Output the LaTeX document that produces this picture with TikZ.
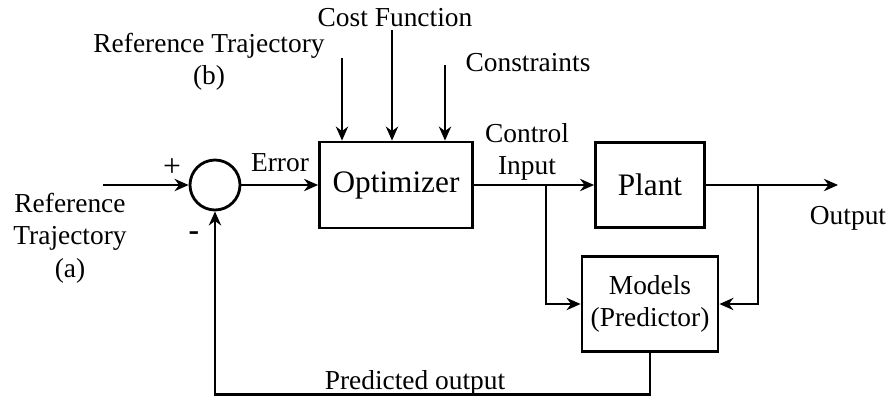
\documentclass[tikz,border=0pt]{standalone}
\usepackage{fontspec}
\setmainfont{Liberation Serif}
\usetikzlibrary{arrows.meta}

\tikzset{
  blk/.style={draw,line width=1.6pt,inner sep=0pt,align=center},
  arr/.style={line width=1.6pt,-{Stealth[length=8pt,width=7pt]}},
  lbl/.style={inner sep=0pt,align=center,font=\fontsize{15.6}{18.5}\selectfont}
}

\begin{document}
\begin{tikzpicture}[x=0.02cm,y=-0.02cm]
    \useasboundingbox (0,0) rectangle (890,403);
    % blocks
    \node[blk,circle,minimum size=1cm] (sum) at (215,185) {};
    \node[blk,minimum width=3.06cm,minimum height=1.72cm,font=\fontsize{17.8}{20}\selectfont] (opt) at (396,185) {Optimizer};
    \node[blk,minimum width=2.18cm,minimum height=1.7cm,font=\fontsize{17.8}{20}\selectfont] (plant) at (650,185) {Plant};
    \node[blk,minimum width=2.72cm,minimum height=1.9cm,font=\fontsize{15.6}{18.5}\selectfont] (model) at (650,304) {Models\\(Predictor)};
    % free ends
    \coordinate (refin) at (103,185);
    \coordinate (refb) at (342,58);
    \coordinate (cost) at (392,30);
    \coordinate (cons) at (445,65);
    \coordinate (ctrl) at (546,185);
    \coordinate (outb) at (758,185);
    \coordinate (out) at (838,185);
    % connectors
    \draw[arr] (refin) -- (sum.west);
    \draw[arr] (sum.east) -- (opt.west);
    \draw[arr] (refb) -- (refb |- opt.north);
    \draw[arr] (cost) -- (cost |- opt.north);
    \draw[arr] (cons) -- (cons |- opt.north);
    \draw[arr] (opt.east) -- (plant.west);
    \draw[arr] (plant.east) -- (out);
    \draw[arr] (ctrl) |- (model.west);
    \draw[arr] (outb) |- (model.east);
    \draw[arr] (model.south) -- ++(0,42) -| (sum.south);
    % labels
    \node[lbl] (refa) at (70,238) {Reference\\Trajectory\\(a)};
    \node[lbl,font=\fontsize{18}{20}\selectfont] (plus) at (172,168) {+};
    \node[lbl,font=\fontsize{18}{20}\selectfont\bfseries] (minus) at (194,236) {-};
    \node[lbl] (err) at (280,163) {Error};
    \node[lbl] (reft) at (209,62) {Reference Trajectory\\(b)};
    \node[lbl] (costl) at (395,18) {Cost Function};
    \node[lbl] (consl) at (528,63) {Constraints};
    \node[lbl] (ctrll) at (527,152) {Control\\Input};
    \node[lbl] (outl) at (848,218) {Output};
    \node[lbl] (pred) at (415,383) {Predicted output};
\end{tikzpicture}
\end{document}
